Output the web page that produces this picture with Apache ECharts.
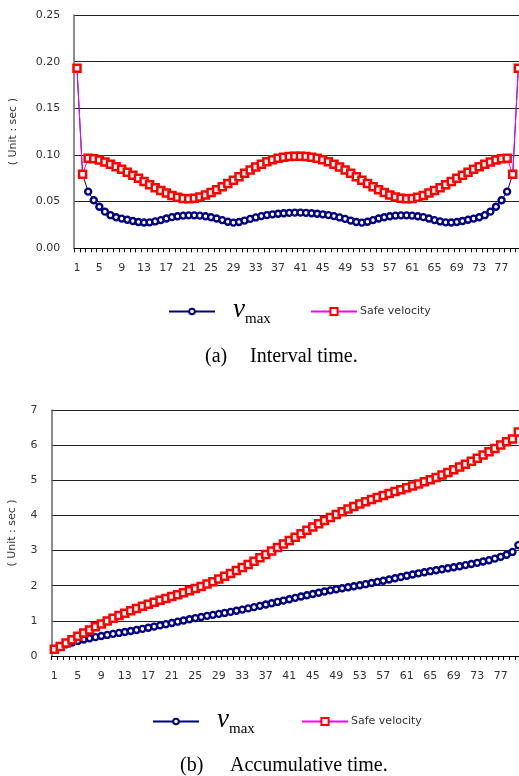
<!DOCTYPE html>
<html><head><meta charset="utf-8">
<script src="https://cdn.jsdelivr.net/npm/echarts@6/dist/echarts.min.js"></script>
<style>html,body{margin:0;padding:0;background:#fff}#c{width:519px;height:776px}</style>
</head><body><div id="c"></div>
<script>
const categories = ['1','2','3','4','5','6','7','8','9','10','11','12','13','14','15','16','17','18','19','20',
'21','22','23','24','25','26','27','28','29','30','31','32','33','34','35','36','37','38','39','40',
'41','42','43','44','45','46','47','48','49','50','51','52','53','54','55','56','57','58','59','60',
'61','62','63','64','65','66','67','68','69','70','71','72','73','74','75','76','77','78','79','80'];

const intervalVmax = [0.193,0.0793,0.0607,0.0515,0.0445,0.0393,0.0355,0.0333,0.0318,0.0306,
0.0293,0.0282,0.0276,0.0278,0.0288,0.0302,0.0319,0.0334,0.0343,0.0350,
0.0353,0.0353,0.0350,0.0344,0.0333,0.0320,0.0302,0.0285,0.0275,0.0282,
0.0297,0.0315,0.0331,0.0345,0.0356,0.0364,0.0371,0.0376,0.0380,0.0382,
0.0382,0.0380,0.0376,0.0371,0.0364,0.0356,0.0345,0.0331,0.0315,0.0297,
0.0282,0.0275,0.0285,0.0302,0.0320,0.0333,0.0344,0.0350,0.0353,0.0353,
0.0350,0.0343,0.0334,0.0319,0.0302,0.0288,0.0278,0.0276,0.0282,0.0293,
0.0306,0.0318,0.0333,0.0355,0.0393,0.0445,0.0515,0.0607,0.0793,0.193];

const intervalSafe = [0.193,0.0793,0.0965,0.0959,0.0945,0.0924,0.0902,0.0874,0.0846,0.0815,
0.0783,0.0750,0.0715,0.0681,0.0650,0.0620,0.0592,0.0567,0.0547,0.0534,
0.0530,0.0535,0.0550,0.0572,0.0598,0.0627,0.0660,0.0694,0.0730,0.0767,
0.0803,0.0838,0.0870,0.0901,0.0927,0.0949,0.0965,0.0976,0.0983,0.0986,
0.0986,0.0983,0.0976,0.0965,0.0949,0.0927,0.0901,0.0870,0.0838,0.0803,
0.0767,0.0730,0.0694,0.0660,0.0627,0.0598,0.0572,0.0550,0.0535,0.0530,
0.0534,0.0547,0.0567,0.0592,0.0620,0.0650,0.0681,0.0715,0.0750,0.0783,
0.0815,0.0846,0.0874,0.0902,0.0924,0.0945,0.0959,0.0965,0.0793,0.193];

const cumVmax = [0.193,0.272,0.333,0.385,0.429,0.468,0.504,0.537,0.569,0.600,
0.629,0.657,0.685,0.712,0.741,0.771,0.803,0.837,0.871,0.906,
0.941,0.977,1.012,1.046,1.079,1.111,1.142,1.170,1.198,1.226,
1.255,1.287,1.320,1.355,1.390,1.427,1.464,1.501,1.539,1.577,
1.616,1.654,1.691,1.728,1.765,1.800,1.835,1.868,1.899,1.929,
1.957,1.985,2.013,2.044,2.076,2.109,2.143,2.178,2.214,2.249,
2.284,2.318,2.352,2.383,2.414,2.442,2.470,2.498,2.526,2.555,
2.586,2.618,2.651,2.687,2.726,2.770,2.822,2.883,2.962,3.155];

const cumSafe = [0.193,0.272,0.369,0.465,0.559,0.652,0.742,0.829,0.914,0.995,
1.074,1.149,1.220,1.288,1.353,1.415,1.474,1.531,1.586,1.639,
1.692,1.746,1.801,1.858,1.918,1.980,2.046,2.116,2.189,2.266,
2.346,2.430,2.517,2.607,2.699,2.794,2.891,2.988,3.087,3.185,
3.284,3.382,3.480,3.576,3.671,3.764,3.854,3.941,4.025,4.105,
4.182,4.255,4.324,4.390,4.453,4.513,4.570,4.625,4.678,4.731,
4.785,4.840,4.896,4.955,5.017,5.082,5.151,5.222,5.297,5.375,
5.457,5.541,5.629,5.719,5.811,5.906,6.002,6.098,6.178,6.371];

const yTicksTop = [0, 0.05, 0.10, 0.15, 0.20, 0.25];
const yTicksBottom = [0, 1, 2, 3, 4, 5, 6, 7];
const seriesNames = ['vmax', 'Safe velocity'];
const yAxisName = '( Unit : sec )';
const captionA = ['(a)', 'Interval time.'];
const captionB = ['(b)', 'Accumulative time.'];

const SANS = 'DejaVu Sans';
const SERIF = 'Liberation Serif';
const TXT = '#333';

function xAxis(gi, margin) {
  return {
    type: 'category', gridIndex: gi, data: categories, boundaryGap: true,
    axisLine: {show: true, lineStyle: {color: '#000', width: 1}},
    axisTick: {show: true, interval: 0, length: 4, lineStyle: {color: '#000', width: 1}},
    axisLabel: {interval: 3, margin: margin, fontSize: 11, fontFamily: SANS, color: TXT},
    splitLine: {show: false}
  };
}
function yAxis(gi, ticks, fmt, nameGap) {
  return {
    type: 'value', gridIndex: gi, min: ticks[0], max: ticks[ticks.length - 1],
    interval: ticks[1] - ticks[0],
    axisLine: {show: true, lineStyle: {color: '#666', width: 1.5}},
    axisTick: {show: false},
    axisLabel: {formatter: fmt, margin: 14, fontSize: 11, fontFamily: SANS, color: TXT},
    splitLine: {show: true, lineStyle: {color: '#222', width: 1}},
    name: yAxisName, nameLocation: 'middle', nameRotate: 90, nameGap: nameGap,
    nameTextStyle: {fontSize: 11, fontFamily: SANS, color: TXT}
  };
}
const blueStyle = {
  type: 'line', symbol: 'circle', symbolSize: 6, showAllSymbol: true,
  lineStyle: {color: '#000080', width: 1},
  itemStyle: {color: '#ffffff', borderColor: '#000080', borderWidth: 2.4},
  emphasis: {disabled: true}, z: 2
};
const redStyle = {
  type: 'line', symbol: 'rect', symbolSize: 7, showAllSymbol: true,
  lineStyle: {color: '#ff00ff', width: 1},
  itemStyle: {color: '#ffffff', borderColor: '#ff0000', borderWidth: 2.5},
  emphasis: {disabled: true}, z: 3
};
function vLegend(left, top) {
  return {
    data: [seriesNames[0]], left: left, top: top, itemWidth: 46, itemHeight: 7,
    selectedMode: false,
    formatter: function () { return '{v|v}{s|max}'; },
    textStyle: {rich: {
      v: {fontFamily: SERIF, fontStyle: 'italic', fontSize: 27, color: '#000', padding: [0, 0, 4, 13], verticalAlign: 'bottom'},
      s: {fontFamily: SERIF, fontSize: 15, color: '#000', verticalAlign: 'bottom'}
    }}
  };
}
function sLegend(left, top) {
  return {
    data: [seriesNames[1]], left: left, top: top, itemWidth: 46, itemHeight: 9,
    selectedMode: false,
    textStyle: {fontFamily: SANS, fontSize: 11, color: TXT, padding: [0, 0, 0, -2]}
  };
}
function caption(parts, xa, xb, y) {
  return [
    {type: 'text', x: xa, y: y, style: {text: parts[0], font: '20px "' + SERIF + '"', fill: '#000', textVerticalAlign: 'middle'}},
    {type: 'text', x: xb, y: y, style: {text: parts[1], font: '20px "' + SERIF + '"', fill: '#000', textVerticalAlign: 'middle'}}
  ];
}

const chart = echarts.init(document.getElementById('c'), null, {renderer: 'canvas'});
chart.setOption({
  animation: false,
  backgroundColor: '#ffffff',
  grid: [
    {left: 74.2, top: 15, width: 446.9, height: 233.3, outerBoundsMode: 'none'},
    {left: 51.4, top: 410, width: 469.9, height: 246, outerBoundsMode: 'none'}
  ],
  xAxis: [xAxis(0, 14), xAxis(1, 15)],
  yAxis: [
    yAxis(0, yTicksTop, function (v) { return v.toFixed(2); }, 56),
    yAxis(1, yTicksBottom, function (v) { return String(Math.round(v)); }, 34)
  ],
  legend: [vLegend(163, 291), sLegend(305, 301), vLegend(147, 701), sLegend(296, 711)],
  series: [
    Object.assign({name: seriesNames[0], xAxisIndex: 0, yAxisIndex: 0, data: intervalVmax}, blueStyle),
    Object.assign({name: seriesNames[1], xAxisIndex: 0, yAxisIndex: 0, data: intervalSafe}, redStyle),
    Object.assign({name: seriesNames[0], xAxisIndex: 1, yAxisIndex: 1, data: cumVmax}, blueStyle),
    Object.assign({name: seriesNames[1], xAxisIndex: 1, yAxisIndex: 1, data: cumSafe}, redStyle)
  ],
  graphic: caption(captionA, 205, 250, 357).concat(caption(captionB, 180, 230, 766))
});
</script>
</body></html>
